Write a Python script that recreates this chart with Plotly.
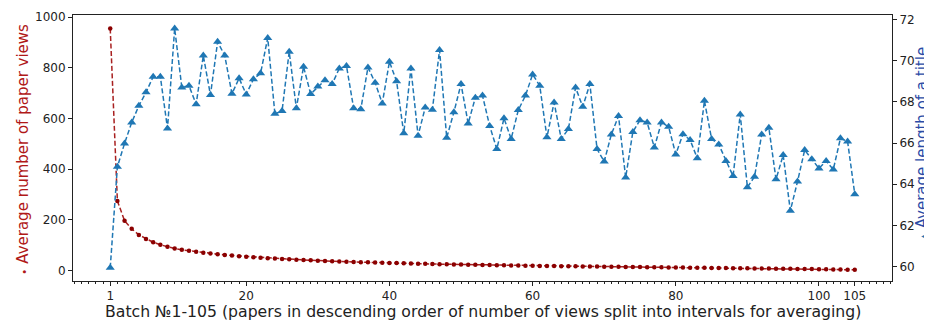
import plotly.graph_objects as go

batches = list(range(1, 106))

avg_views = [956, 275, 197, 165, 141, 125, 112, 102, 94, 87,
             82, 78, 74, 71, 68, 65, 62, 60, 57, 55,
             53, 51, 49, 48, 46, 45, 43, 42, 41, 39,
             38, 37, 36, 35, 34, 33.5, 33, 32, 31, 30.5,
             30, 29, 28, 27.5, 27, 26, 25.5, 25, 24.5, 24,
             23.5, 23, 22.5, 22, 21.5, 21, 20.5, 20, 19.5, 19,
             18.7, 18.4, 18, 17.7, 17.4, 17, 16.7, 16.4, 16, 15.7,
             15.4, 15, 14.7, 14.4, 14, 13.7, 13.4, 13, 12.7, 12.4,
             12, 11.7, 11.4, 11, 10.7, 10.4, 10, 9.7, 9.4, 9,
             8.7, 8.4, 8, 7.7, 7.4, 7, 6.7, 6.4, 6, 5.5,
             5, 4.5, 4, 3.5, 3]

avg_title_len = [59.95, 64.85, 65.98, 67.00, 67.81, 68.46, 69.22, 69.22, 66.71, 71.56,
                 68.70, 68.78, 67.88, 70.24, 68.33, 70.91, 70.24, 68.39, 69.14, 68.36,
                 69.10, 69.38, 71.10, 67.42, 67.55, 70.43, 67.69, 69.70, 68.38, 68.74,
                 69.05, 68.86, 69.62, 69.74, 67.69, 67.64, 69.67, 68.93, 67.92, 69.94,
                 69.00, 66.47, 69.62, 66.36, 67.72, 67.62, 70.51, 66.26, 67.49, 68.86,
                 66.95, 68.20, 68.30, 66.83, 65.71, 67.20, 66.20, 67.60, 68.30, 69.33,
                 68.78, 66.28, 67.97, 66.20, 66.68, 68.69, 67.76, 68.86, 65.71, 65.10,
                 66.42, 67.31, 64.33, 66.54, 67.11, 67.00, 65.79, 67.00, 66.79, 65.45,
                 66.43, 66.15, 65.26, 68.05, 66.20, 65.93, 65.13, 64.40, 67.39, 63.86,
                 64.37, 66.42, 66.74, 64.24, 65.42, 62.72, 64.13, 65.66, 65.22, 64.77,
                 65.13, 64.72, 66.23, 66.07, 63.52]

x_ticks = [1, 20, 40, 60, 80, 100, 105]
x_minor_ticks = list(range(-4, 111))
left_ticks = [0, 200, 400, 600, 800, 1000]
right_ticks = [60, 62, 64, 66, 68, 70, 72]

x_title = "Batch №1-105 (papers in descending order of number of views split into intervals for averaging)"
left_title = "<span style='font-size:11px'>•</span> Average number of paper views"
right_title = "<span style='font-size:9px;color:#1f77b4'>▲</span> Average length of a title"

FONT = "DejaVu Sans"
RED_LINE = "#a82020"
RED_MARK = "#8b0000"
BLUE = "#1f77b4"
INK = "#222"

fig = go.Figure()
fig.add_trace(go.Scatter(
    x=batches, y=avg_views, mode="lines+markers", yaxis="y",
    line=dict(color=RED_LINE, width=1.5, dash="5px,2.5px"),
    marker=dict(symbol="circle", size=4.5, color=RED_MARK),
    showlegend=False))
fig.add_trace(go.Scatter(
    x=batches, y=avg_title_len, mode="lines+markers", yaxis="y2",
    line=dict(color=BLUE, width=1.5, dash="5px,2.5px"),
    marker=dict(symbol="triangle-up", size=8, color=BLUE),
    showlegend=False))

# page body has an 8px default margin; figure is sized to fit inside the 932x320 window
fig.update_layout(
    width=924, height=312,
    margin=dict(l=65, r=40, t=7, b=39),
    paper_bgcolor="white", plot_bgcolor="white",
    font=dict(family=FONT, size=12, color=INK),
    xaxis=dict(
        range=[-4.2, 110.2], tickmode="array", tickvals=x_ticks,
        ticktext=[str(v) for v in x_ticks],
        ticks="outside", ticklen=4, tickwidth=1, tickcolor=INK,
        showline=True, linecolor=INK, linewidth=1, mirror=True,
        showgrid=False, zeroline=False,
        minor=dict(tickmode="array", tickvals=x_minor_ticks, ticks="outside",
                   ticklen=2, tickwidth=0.8, tickcolor=INK, showgrid=False),
        automargin=False,
    ),
    yaxis=dict(
        range=[-41, 1009], tickmode="array", tickvals=left_ticks,
        ticks="outside", ticklen=4, tickcolor=INK,
        showline=True, linecolor=INK, linewidth=1,
        showgrid=False, zeroline=False, automargin=False,
    ),
    yaxis2=dict(
        range=[59.31, 72.21], tickmode="array", tickvals=right_ticks,
        overlaying="y", side="right",
        ticks="outside", ticklen=4, tickcolor=INK,
        showline=True, linecolor=INK, linewidth=1,
        showgrid=False, zeroline=False, automargin=False,
    ),
    annotations=[
        dict(text=x_title, xref="paper", yref="paper", x=0.5, y=0,
             xanchor="center", yanchor="middle", yshift=-30, showarrow=False,
             font=dict(size=15.7, color=INK)),
        dict(text=left_title, xref="paper", yref="paper", x=0, y=0.5,
             xanchor="center", yanchor="middle", xshift=-50, yshift=-2,
             textangle=-90, showarrow=False,
             font=dict(size=15, color="#b01818")),
        dict(text=right_title, xref="paper", yref="paper", x=1, y=0.5,
             xanchor="center", yanchor="middle", xshift=30, yshift=4,
             textangle=-90, showarrow=False,
             font=dict(size=15, color="#2b4ba6")),
    ],
)

fig.write_html("out.html")
